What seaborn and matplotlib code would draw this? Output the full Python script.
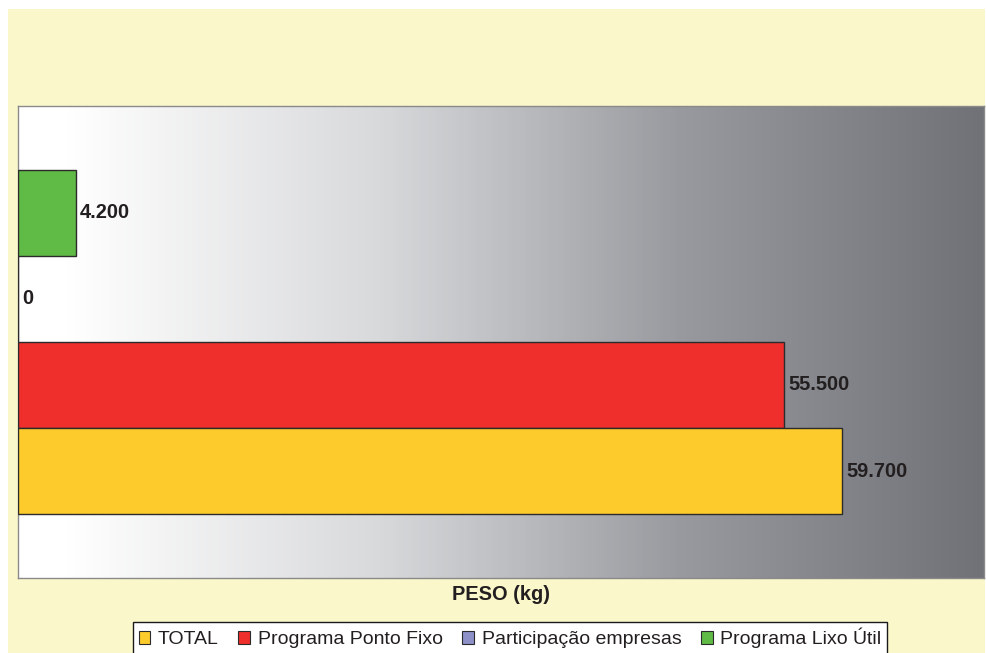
#!/usr/bin/env python3
"""Peso (kg) por programa - barras horizontais com fundo em degradê."""

import numpy as np
import pandas as pd
import matplotlib
matplotlib.use("Agg")
import matplotlib.pyplot as plt
from matplotlib.colors import LinearSegmentedColormap
from matplotlib.patches import Patch, Rectangle
import seaborn as sns

# Data (top to bottom as drawn)
series = ["Programa Lixo Útil", "Participação empresas", "Programa Ponto Fixo", "TOTAL"]
values = [4200, 0, 55500, 59700]
colors = ["#5FBB46", "#8E90C8", "#EE2F2B", "#FDCB2B"]
legend_order = ["TOTAL", "Programa Ponto Fixo", "Participação empresas", "Programa Lixo Útil"]
x_max = 70000

df = pd.DataFrame({"serie": series, "peso": values})
palette = dict(zip(series, colors))


def fmt_pt(v):
    return f"{v:,.0f}".replace(",", ".")


sns.set_style("white")
plt.rcParams["font.family"] = ["Liberation Sans", "DejaVu Sans"]

W, H = 986, 653
fig = plt.figure(figsize=(W / 100, H / 100), dpi=100)
fig.patch.set_facecolor("white")
fig.patches.append(Rectangle((8 / W, 0), (985 - 8) / W, 1 - 9 / H,
                             transform=fig.transFigure, facecolor="#FAF7CB",
                             edgecolor="none", zorder=-10))

ax = fig.add_axes([18 / W, 1 - 578 / H, 966 / W, 472 / H])

sns.barplot(data=df, y="serie", x="peso", hue="serie", order=series,
            palette=palette, saturation=1, width=1.0, edgecolor="#2b2b2b",
            linewidth=1.0, legend=False, ax=ax, zorder=3)

# Gradient background of the plot area
grad = LinearSegmentedColormap.from_list(
    "plotbg",
    [(0.0, "#FFFFFF"), (0.05, "#FFFFFF"), (0.375, "#D8D9DB"),
     (0.685, "#989A9F"), (1.0, "#707277")])
half = 472 / 86 / 2
ylim = (1.5 + half, 1.5 - half)
ax.imshow(np.linspace(0, 1, 256).reshape(1, -1), cmap=grad, aspect="auto",
          extent=(0, x_max, ylim[0], ylim[1]), zorder=0)
ax.set_xlim(0, x_max)
ax.set_ylim(*ylim)

for cont in ax.containers:
    ax.bar_label(cont, labels=[fmt_pt(v) for v in cont.datavalues], padding=3,
                 fontsize=14.4, fontweight="bold", color="#231F20")

ax.set_xticks([])
ax.set_yticks([])
ax.set_xlabel("")
ax.set_ylabel("")
for s in ax.spines.values():
    s.set_color("#8a8a8a")
    s.set_linewidth(1.0)

fig.text(501 / W, 1 - 594 / H, "PESO (kg)", ha="center", va="center",
         fontsize=14.4, fontweight="bold", color="#231F20")

handles = [Patch(facecolor=palette[s], edgecolor="#2b2b2b", linewidth=0.8)
           for s in legend_order]
leg = fig.legend(handles, legend_order, loc="upper center", ncol=4,
                 bbox_to_anchor=(510 / W, 1 - 622 / H), frameon=True,
                 fancybox=False, framealpha=1, fontsize=14, handlelength=0.6,
                 handleheight=0.6, handletextpad=0.4, columnspacing=1.0,
                 borderpad=0.3, borderaxespad=0)
leg.get_frame().set_facecolor("white")
leg.get_frame().set_edgecolor("#1a1a1a")
leg.get_frame().set_linewidth(1.0)
for t in leg.get_texts():
    t.set_color("#231F20")

fig.savefig("out.png", dpi=100, facecolor=fig.get_facecolor())
